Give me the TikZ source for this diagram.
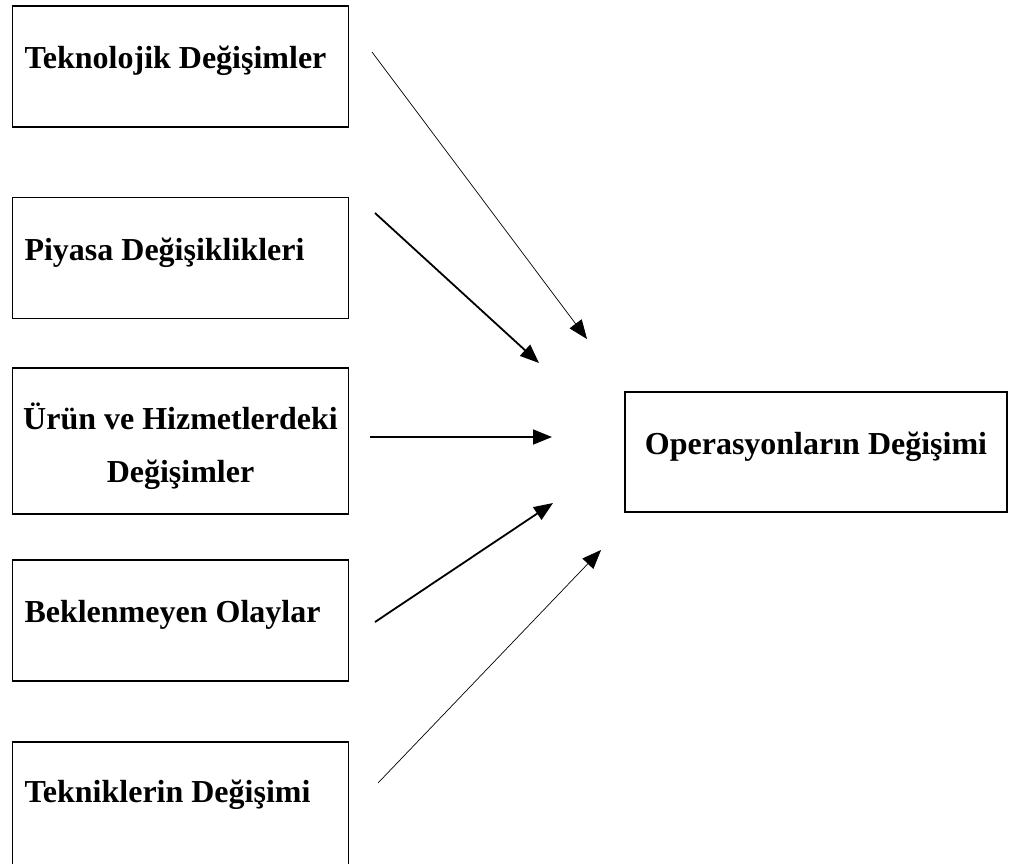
\documentclass[tikz,border=0pt]{standalone}
\usepackage{fontspec}
\setmainfont{Liberation Serif}
\usetikzlibrary{arrows.meta}
\tikzset{
  kutu/.style={draw, line width=1.2pt, minimum width=336pt, minimum height=121pt,
    inner xsep=12pt, inner ysep=0pt, text height=22pt, text depth=18pt,
    font=\bfseries\fontsize{32}{53}\selectfont},
  solkutu/.style={kutu, text width=312pt, align=flush left},
  ok/.style={-{Triangle[length=19pt,width=15pt]}, line width=1.8pt},
  inceok/.style={ok, line width=0.7pt}
}
\begin{document}
\begin{tikzpicture}[x=1pt,y=-1pt]
  \useasboundingbox (0,0) rectangle (1014,863);
  % sol kutular
  \node[solkutu] (tek) at (180.5,66.5) {Teknolojik Değişimler};
  \node[solkutu] (piy) at (180.5,258) {Piyasa Değişiklikleri};
  \node[kutu, align=center, inner xsep=2pt, minimum height=146pt, text height=91pt, text depth=] (urun) at (180.5,441) {Ürün ve Hizmetlerdeki\\Değişimler};
  \node[solkutu] (bek) at (180.5,620.5) {Beklenmeyen Olaylar};
  \node[solkutu, minimum height=126pt, text depth=28pt] (tekn) at (180.5,805) {Tekniklerin Değişimi};
  % sag kutu
  \node[kutu, minimum width=382pt, minimum height=120pt] (ops) at (816,452) {Operasyonların Değişimi};
  % oklarin uclari
  \coordinate (tekBas) at (372,52);   \coordinate (tekUc) at (587,339);
  \coordinate (piyBas) at (375,213);  \coordinate (piyUc) at (539,363);
  \coordinate (urunBas) at (370,437); \coordinate (urunUc) at (552,437);
  \coordinate (bekBas) at (375,622);  \coordinate (bekUc) at (553,503);
  \coordinate (teknBas) at (378,783); \coordinate (teknUc) at (601,550);
  \draw[inceok] (tekBas) -- (tekUc);
  \draw[ok] (piyBas) -- (piyUc);
  \draw[ok] (urunBas) -- (urunUc);
  \draw[ok] (bekBas) -- (bekUc);
  \draw[inceok] (teknBas) -- (teknUc);
\end{tikzpicture}
\end{document}
